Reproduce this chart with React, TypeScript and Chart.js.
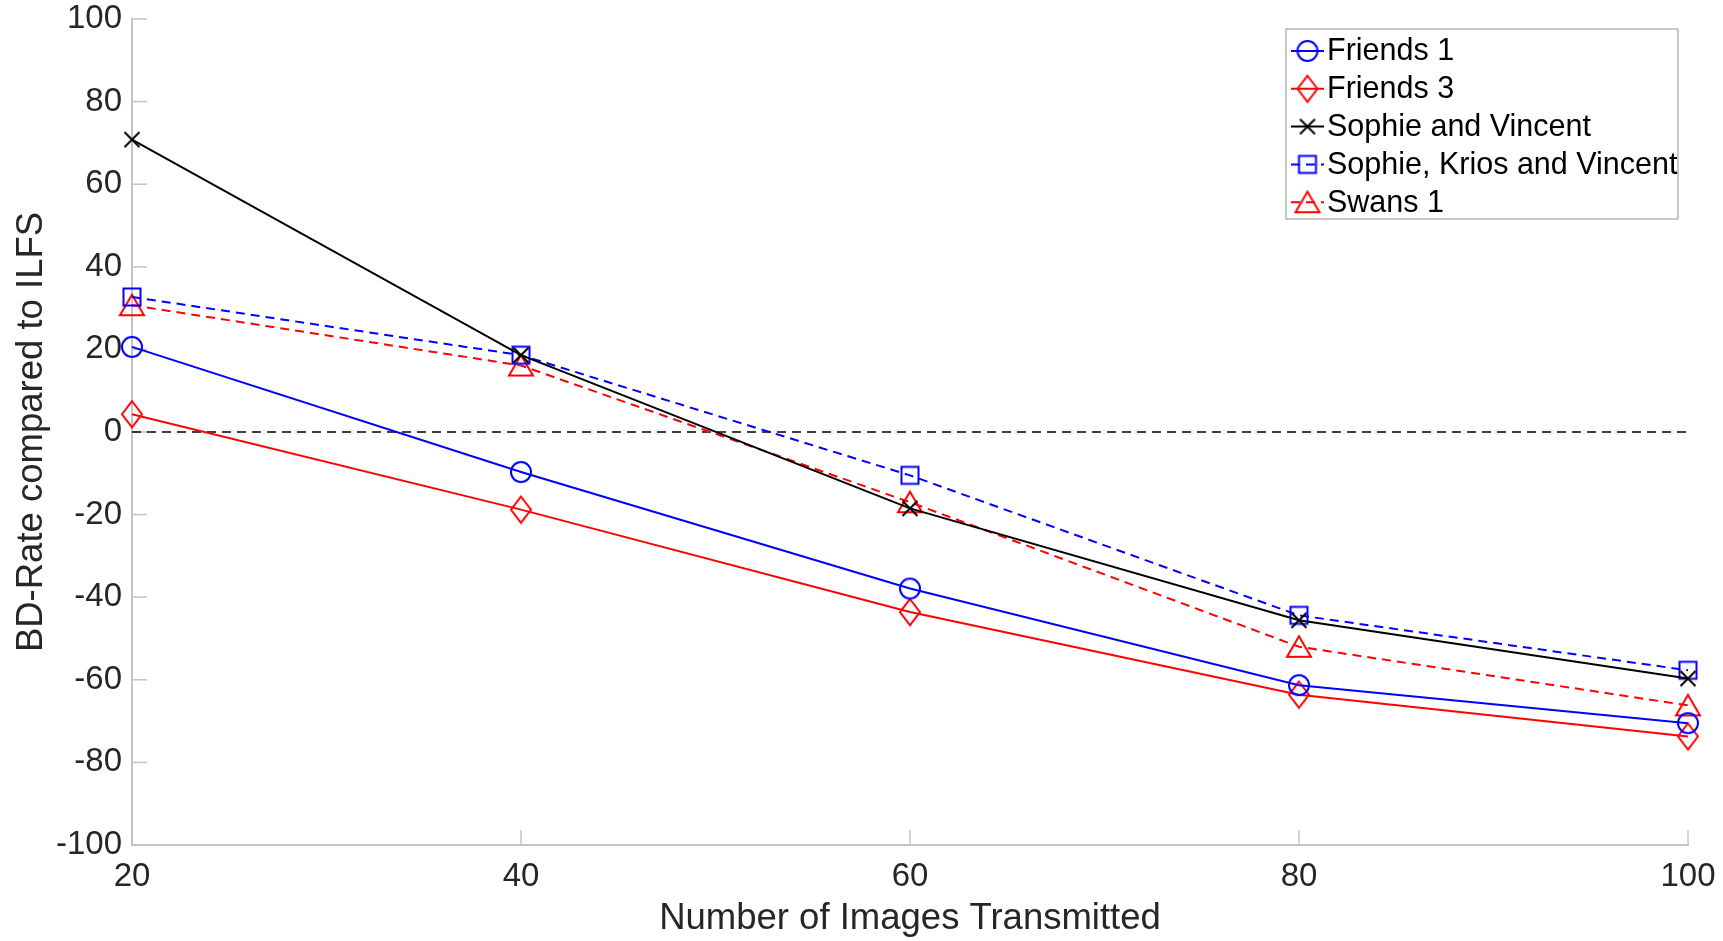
import React, { useEffect, useRef } from 'react';
import { Chart, registerables } from 'chart.js';

Chart.register(...registerables);

// ---- data ----
const xValues = [20, 40, 60, 80, 100];
const friends1 = [20.6, -9.7, -37.9, -61.3, -70.5];
const friends3 = [4.3, -18.8, -43.6, -63.6, -73.7];
const sophieVincent = [70.8, 18.6, -18.5, -45.6, -59.7];
const sophieKriosVincent = [32.7, 18.6, -10.5, -44.4, -57.7];
const swans1 = [30.7, 16.1, -17.0, -52.0, -66.2];
const seriesNames = ['Friends 1', 'Friends 3', 'Sophie and Vincent', 'Sophie, Krios and Vincent', 'Swans 1'];
const xTickValues = [20, 40, 60, 80, 100];
const yTickValues = [-100, -80, -60, -40, -20, 0, 20, 40, 60, 80, 100];
const zeroLine = [0, 0];
const zeroLineX = [20, 100];

const FONT = '"Liberation Sans", Arial, Helvetica, sans-serif';
const AXIS_COLOR = '#c4c4c4';
const TEXT_COLOR = '#262626';

type MarkerKind = 'circle' | 'diamond' | 'x' | 'square' | 'triangle';

function makeMarker(kind: MarkerKind, color: string): HTMLCanvasElement {
  const c = document.createElement('canvas');
  const size = 32;
  c.width = size;
  c.height = size;
  const g = c.getContext('2d')!;
  const m = size / 2;
  g.strokeStyle = color;
  g.lineWidth = 2;
  g.beginPath();
  if (kind === 'circle') {
    g.arc(m, m, 10, 0, Math.PI * 2);
  } else if (kind === 'diamond') {
    g.moveTo(m, m - 13);
    g.lineTo(m + 10, m);
    g.lineTo(m, m + 13);
    g.lineTo(m - 10, m);
    g.closePath();
  } else if (kind === 'x') {
    g.moveTo(m - 7.5, m - 7.5);
    g.lineTo(m + 7.5, m + 7.5);
    g.moveTo(m + 7.5, m - 7.5);
    g.lineTo(m - 7.5, m + 7.5);
  } else if (kind === 'square') {
    g.rect(m - 8.5, m - 8.5, 17, 17);
  } else {
    g.moveTo(m, m - 10.5);
    g.lineTo(m + 12, m + 10);
    g.lineTo(m - 12, m + 10);
    g.closePath();
  }
  g.stroke();
  return c;
}

const inwardTicks = {
  id: 'inwardTicks',
  beforeDatasetsDraw(chart: any) {
    const { ctx, chartArea, scales } = chart;
    ctx.save();
    ctx.strokeStyle = AXIS_COLOR;
    ctx.lineWidth = 1.5;
    for (const v of yTickValues) {
      const y = scales.y.getPixelForValue(v);
      ctx.beginPath();
      ctx.moveTo(chartArea.left, y);
      ctx.lineTo(chartArea.left + 15, y);
      ctx.stroke();
    }
    for (const v of xTickValues) {
      const x = scales.x.getPixelForValue(v);
      ctx.beginPath();
      ctx.moveTo(x, chartArea.bottom);
      ctx.lineTo(x, chartArea.bottom - 15);
      ctx.stroke();
    }
    ctx.restore();
  },
};

const boxLegend = {
  id: 'boxLegend',
  afterDraw(chart: any) {
    const { ctx, chartArea } = chart;
    const w = 392;
    const h = 190;
    const left = chartArea.right - 10 - w;
    const top = chartArea.top + 10;
    ctx.save();
    ctx.fillStyle = '#ffffff';
    ctx.fillRect(left, top, w, h);
    ctx.strokeStyle = '#b8b8b8';
    ctx.lineWidth = 1.5;
    ctx.strokeRect(left, top, w, h);
    ctx.font = `30.5px ${FONT}`;
    ctx.textBaseline = 'middle';
    ctx.textAlign = 'left';
    const datasets = chart.data.datasets.slice(0, seriesNames.length);
    datasets.forEach((ds: any, i: number) => {
      const y = top + 22 + i * 37.8;
      ctx.strokeStyle = ds.borderColor;
      ctx.lineWidth = ds.borderWidth;
      ctx.setLineDash(ds.borderDash || []);
      ctx.beginPath();
      ctx.moveTo(left + 5, y);
      ctx.lineTo(left + 38, y);
      ctx.stroke();
      ctx.setLineDash([]);
      const img = ds.pointStyle as HTMLCanvasElement;
      ctx.drawImage(img, left + 21.5 - img.width / 2, y - img.height / 2);
      ctx.fillStyle = '#000000';
      ctx.fillText(ds.label, left + 41, y + 1);
    });
    ctx.restore();
  },
};

export default function App() {
  const canvasRef = useRef<HTMLCanvasElement | null>(null);

  useEffect(() => {
    document.body.style.margin = '0';
    const canvas = canvasRef.current!;
    const toPts = (ys: number[]) => ys.map((y, i) => ({ x: xValues[i], y }));
    const mk = (label: string, ys: number[], color: string, marker: MarkerKind, dashed: boolean) => ({
      label,
      data: toPts(ys),
      borderColor: color,
      backgroundColor: color,
      borderWidth: 2,
      borderDash: dashed ? [9, 6] : [],
      pointStyle: makeMarker(marker, color),
      pointRadius: 10,
      pointHoverRadius: 10,
      tension: 0,
      clip: false as any,
    });
    const chart = new Chart(canvas, {
      type: 'line',
      data: {
        datasets: [
          mk(seriesNames[0], friends1, '#0000ff', 'circle', false),
          mk(seriesNames[1], friends3, '#ff0000', 'diamond', false),
          mk(seriesNames[2], sophieVincent, '#000000', 'x', false),
          mk(seriesNames[3], sophieKriosVincent, '#0000ff', 'square', true),
          mk(seriesNames[4], swans1, '#ff0000', 'triangle', true),
          {
            label: 'zero',
            data: zeroLine.map((y, i) => ({ x: zeroLineX[i], y })),
            borderColor: '#000000',
            borderWidth: 1.6,
            borderDash: [9, 6],
            pointRadius: 0,
            clip: false as any,
          } as any,
        ],
      },
      options: {
        responsive: false,
        animation: false,
        devicePixelRatio: 1,
        layout: { padding: { left: 0, top: 19, right: 35, bottom: 0 } },
        plugins: { legend: { display: false }, tooltip: { enabled: false } },
        scales: {
          x: {
            type: 'linear',
            min: 20,
            max: 100,
            afterFit: (s: any) => {
              s.height = 96;
              s.paddingLeft = 0;
              s.paddingRight = 0;
            },
            afterBuildTicks: (s: any) => {
              s.ticks = xTickValues.map((v) => ({ value: v }));
            },
            grid: { display: false, drawTicks: false },
            border: { display: true, color: AXIS_COLOR, width: 2 },
            ticks: {
              autoSkip: false,
              maxRotation: 0,
              padding: 15,
              color: TEXT_COLOR,
              font: { family: FONT, size: 33, lineHeight: 1 },
            },
            title: {
              display: true,
              text: 'Number of Images Transmitted',
              color: TEXT_COLOR,
              font: { family: FONT, size: 36.5, lineHeight: 1 },
              padding: { top: 0, bottom: 4 },
            },
          },
          y: {
            type: 'linear',
            min: -100,
            max: 100,
            afterFit: (s: any) => {
              s.width = 132;
              s.paddingTop = 0;
              s.paddingBottom = 0;
            },
            afterBuildTicks: (s: any) => {
              s.ticks = yTickValues.map((v) => ({ value: v }));
            },
            grid: { display: false, drawTicks: false },
            border: { display: true, color: AXIS_COLOR, width: 2 },
            ticks: {
              autoSkip: false,
              padding: 10,
              color: TEXT_COLOR,
              font: { family: FONT, size: 33, lineHeight: 1 },
            },
            title: {
              display: true,
              text: 'BD-Rate compared to ILFS',
              color: TEXT_COLOR,
              font: { family: FONT, size: 36.5, lineHeight: 1 },
              padding: { top: 14, bottom: 0 },
            },
          },
        },
      },
      plugins: [inwardTicks, boxLegend],
    } as any);
    return () => chart.destroy();
  }, []);

  return (
    <div style={{ width: 1723, height: 941 }}>
      <canvas ref={canvasRef} width={1723} height={941} style={{ display: 'block', width: 1723, height: 941 }} />
    </div>
  );
}
